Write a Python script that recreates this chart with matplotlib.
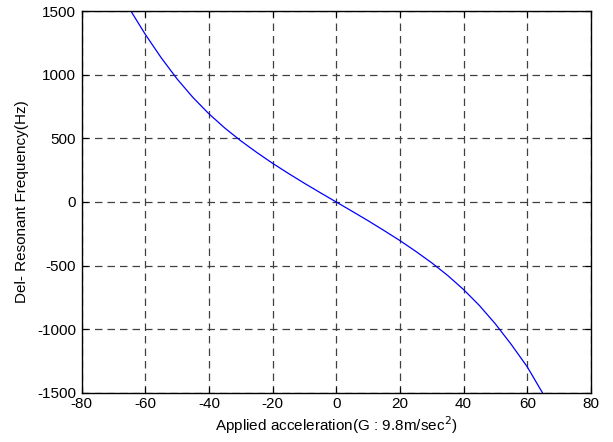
import numpy as np
import matplotlib.pyplot as plt

plt.rcParams['font.family'] = ['Liberation Sans', 'DejaVu Sans']
plt.rcParams['axes.unicode_minus'] = False

# applied acceleration (G) and resonant frequency shift (Hz)
accel = [-64.5, -60, -55, -50, -45, -40, -35, -30, -25, -20, -15, -10, -5, 0,
         5, 10, 15, 20, 25, 30, 35, 40, 45, 50, 55, 60, 64.8]
dfreq = [1500, 1318, 1134, 967, 821, 693, 581, 481, 390, 304, 224, 147, 73, 0,
         -73, -147, -224, -303, -388, -478, -577, -688, -814, -958, -1120, -1295, -1500]

xticks = np.arange(-80, 81, 20)
yticks = np.arange(-1500, 1501, 500)

fig = plt.figure(figsize=(6.13, 4.42), dpi=100)
ax = fig.add_axes([0.133, 0.111, 0.831, 0.864])

ax.plot(accel, dfreq, color='#0000ff', lw=0.9)

ax.set_xlim(-80, 80)
ax.set_ylim(-1500, 1500)
ax.set_xticks(xticks)
ax.set_yticks(yticks)
ax.grid(True, color='#404040', ls=(0, (6, 4)), lw=0.9)
ax.tick_params(direction='in', top=True, right=True, length=4, labelsize=11)
ax.tick_params(axis='x', pad=3)
ax.tick_params(axis='y', pad=4)
for s in ax.spines.values():
    s.set_linewidth(1.0)

ax.set_xlabel('Applied acceleration(G : 9.8m/sec$^2$)', fontsize=11, labelpad=2)
ax.set_ylabel('Del- Resonant Frequency(Hz)', fontsize=11, labelpad=6)

plt.savefig('out.png', dpi=100)
